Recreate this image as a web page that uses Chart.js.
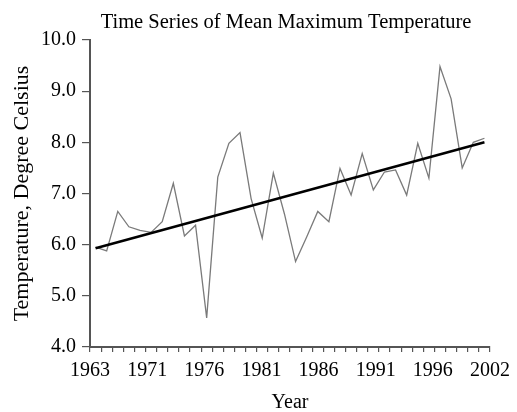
<!DOCTYPE html>
<html>
<head>
<meta charset="utf-8">
<script src="https://cdn.jsdelivr.net/npm/chart.js@4"></script>
<style>
  html, body { margin: 0; padding: 0; background: #ffffff; }
  #wrap { width: 517px; height: 412px; overflow: hidden; }
</style>
</head>
<body>
<div id="wrap"><canvas id="c" width="517" height="412"></canvas></div>
<script>
// ---- data ----
const chartTitle = 'Time Series of Mean Maximum Temperature';
const xTitle = 'Year';
const yTitle = 'Temperature, Degree Celsius';
const xTickLabels = ['1963', '1971', '1976', '1981', '1986', '1991', '1996', '2002'];
const tempValues = [
  5.95, 5.88, 6.65, 6.35, 6.28, 6.24, 6.45, 7.20, 6.17, 6.38,
  4.57, 7.32, 7.98, 8.19, 6.90, 6.13, 7.40, 6.60, 5.67, 6.15,
  6.65, 6.45, 7.49, 6.97, 7.78, 7.07, 7.42, 7.46, 6.97, 7.98,
  7.30, 9.48, 8.85, 7.50, 8.00, 8.08
];
const trendValues = [5.93, 8.00]; // trend line at first and last observation
const yMin = 4, yMax = 10, yStep = 1;

// ---- derived structures ----
const n = tempValues.length;
const seriesData = tempValues.map((v, i) => ({ x: i, y: v }));
const trendData = [{ x: 0, y: trendValues[0] }, { x: n - 1, y: trendValues[1] }];
const xMin = -0.5, xMax = n - 0.5;

const FONT = '"Liberation Serif", "Times New Roman", serif';
const AXIS = '#555555';

const titlePlugin = {
  id: 'customTitle',
  afterDraw(chart) {
    const ctx = chart.ctx;
    ctx.save();
    ctx.font = '20.5px ' + FONT;
    ctx.fillStyle = '#000';
    ctx.textAlign = 'center';
    ctx.textBaseline = 'alphabetic';
    ctx.fillText(chartTitle, 286, 28);
    ctx.restore();
  }
};

new Chart(document.getElementById('c'), {
  type: 'line',
  data: {
    datasets: [
      {
        label: 'Trend',
        data: trendData,
        borderColor: '#000000',
        borderWidth: 2.6,
        pointRadius: 0,
        tension: 0,
        fill: false
      },
      {
        label: 'Mean maximum temperature',
        data: seriesData,
        borderColor: '#7a7a7a',
        borderWidth: 1.3,
        pointRadius: 0,
        tension: 0,
        fill: false
      }
    ]
  },
  options: {
    responsive: false,
    animation: false,
    devicePixelRatio: 1,
    layout: { padding: { top: 40, right: 21, bottom: 0, left: 0 } },
    plugins: {
      legend: { display: false },
      title: { display: false },
      tooltip: { enabled: false }
    },
    scales: {
      x: {
        type: 'linear',
        min: xMin,
        max: xMax,
        afterBuildTicks(scale) {
          const ticks = [];
          for (let j = 0; j <= n; j++) ticks.push({ value: xMin + j, txt: '', mark: true });
          const span = (xMax - xMin) / (xTickLabels.length - 1);
          xTickLabels.forEach((lab, k) => {
            const v = xMin + k * span;
            const found = ticks.find(t => Math.abs(t.value - v) < 1e-6);
            if (found) found.txt = lab;
            else ticks.push({ value: v, txt: lab, mark: false });
          });
          ticks.sort((a, b) => a.value - b.value);
          scale.ticks = ticks;
        },
        afterFit(scale) { scale.height = 65; },
        ticks: {
          autoSkip: false,
          maxRotation: 0,
          minRotation: 0,
          padding: 7,
          color: '#000',
          font: { family: FONT, size: 20 },
          callback(value, index, ticks) { return ticks[index].txt; }
        },
        grid: {
          drawOnChartArea: false,
          drawTicks: true,
          tickLength: 5,
          lineWidth: 1.2,
          color(ctx) { return (ctx.tick && ctx.tick.mark) ? AXIS : 'rgba(0,0,0,0)'; }
        },
        border: { display: true, color: AXIS, width: 2 },
        title: {
          display: true,
          text: xTitle,
          color: '#000',
          font: { family: FONT, size: 20, lineHeight: 0.9 },
          padding: { top: 0, bottom: 0 }
        }
      },
      y: {
        type: 'linear',
        min: yMin,
        max: yMax,
        afterFit(scale) { scale.width = 90; },
        ticks: {
          stepSize: yStep,
          padding: 6,
          color: '#000',
          font: { family: FONT, size: 20 },
          callback(value) { return Number(value).toFixed(1); }
        },
        grid: {
          drawOnChartArea: false,
          drawTicks: true,
          tickLength: 8,
          lineWidth: 1.2,
          color: AXIS
        },
        border: { display: true, color: AXIS, width: 2 },
        title: {
          display: true,
          text: yTitle,
          color: '#000',
          font: { family: FONT, size: 22 },
          padding: { top: 9, bottom: 0 }
        }
      }
    }
  },
  plugins: [titlePlugin]
});
</script>
</body>
</html>
